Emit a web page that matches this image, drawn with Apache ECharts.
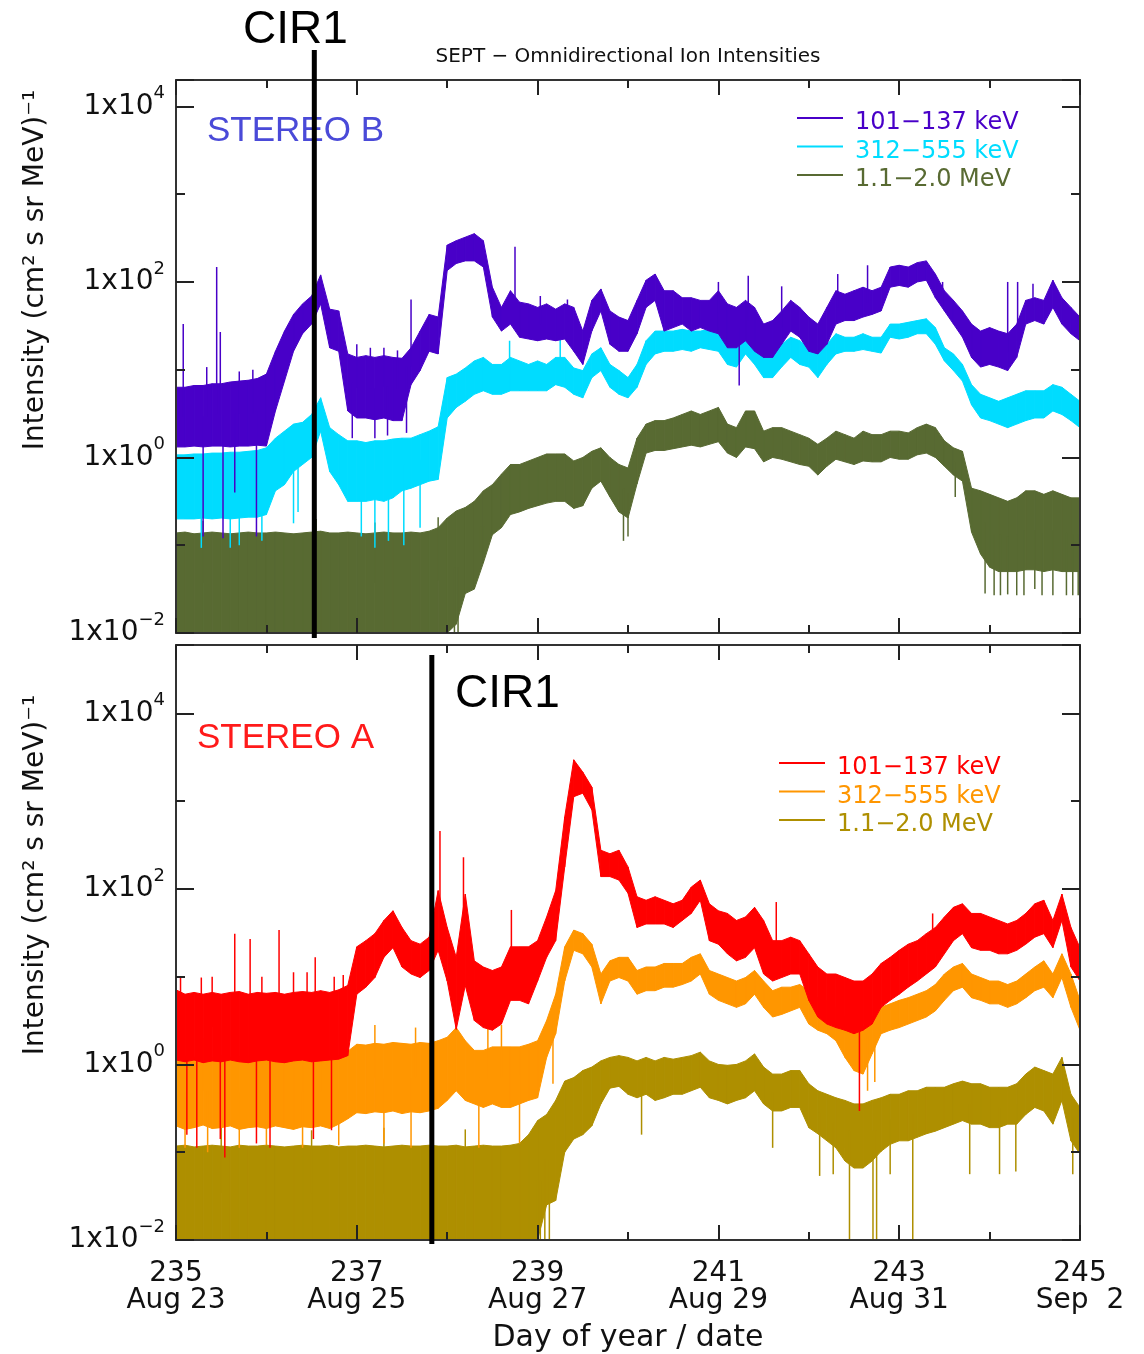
<!DOCTYPE html>
<html><head><meta charset="utf-8">
<script src="https://cdn.jsdelivr.net/npm/echarts@6/dist/echarts.min.js"></script>
<style>html,body{margin:0;padding:0;background:#fff}#c{width:1144px;height:1354px}</style>
</head><body><div id="c"></div><script>
// Sample times: day of year (2008), 0.1-day steps
const days = [
235.0,235.1,235.2,235.3,235.4,235.5,235.6,235.7,235.8,235.9,
236.0,236.1,236.2,236.3,236.4,236.5,236.6,236.7,236.8,236.9,
237.0,237.1,237.2,237.3,237.4,237.5,237.6,237.7,237.8,237.9,
238.0,238.1,238.2,238.3,238.4,238.5,238.6,238.7,238.8,238.9,
239.0,239.1,239.2,239.3,239.4,239.5,239.6,239.7,239.8,239.9,
240.0,240.1,240.2,240.3,240.4,240.5,240.6,240.7,240.8,240.9,
241.0,241.1,241.2,241.3,241.4,241.5,241.6,241.7,241.8,241.9,
242.0,242.1,242.2,242.3,242.4,242.5,242.6,242.7,242.8,242.9,
243.0,243.1,243.2,243.3,243.4,243.5,243.6,243.7,243.8,243.9,
244.0,244.1,244.2,244.3,244.4,244.5,244.6,244.7,244.8,244.9,
245.0];
const dayTicks = [235, 237, 239, 241, 243, 245];
const dateTicks = ['Aug 23', 'Aug 25', 'Aug 27', 'Aug 29', 'Aug 31', 'Sep  2'];
const channels = ['101\u2212137 keV', '312\u2212555 keV', '1.1\u22122.0 MeV'];

// All intensities below are log10 of (cm^2 s sr MeV)^-1 : upper / lower envelope of the noisy trace
// STEREO B
const bLowHi = [
0.80,0.80,0.82,0.82,0.84,0.84,0.86,0.87,0.88,0.90,
0.95,1.21,1.44,1.63,1.75,1.84,2.08,1.69,1.67,1.18,
1.14,1.16,1.14,1.16,1.14,1.13,1.25,1.44,1.63,1.60,
2.42,2.47,2.51,2.55,2.47,1.94,1.71,1.90,1.77,1.75,
1.71,1.75,1.69,1.75,1.71,1.44,1.79,1.92,1.67,1.60,
1.56,1.79,2.02,2.09,1.90,1.90,1.82,1.82,1.79,1.79,
1.90,1.75,1.71,1.79,1.71,1.52,1.56,1.67,1.79,1.71,
1.60,1.52,1.71,1.90,1.86,1.90,1.94,1.90,1.94,2.17,
2.19,2.17,2.22,2.24,2.09,1.90,1.79,1.67,1.52,1.44,
1.48,1.44,1.41,1.52,1.79,1.82,1.79,2.02,1.82,1.71,
1.60];
const bLowLo = [
0.12,0.12,0.13,0.12,0.13,0.13,0.12,0.13,0.13,0.14,
0.13,0.53,0.87,1.21,1.41,1.52,1.75,1.25,1.21,0.53,
0.45,0.45,0.43,0.45,0.42,0.42,0.83,0.99,1.21,1.18,
2.13,2.21,2.24,2.24,2.17,1.60,1.44,1.52,1.37,1.35,
1.33,1.35,1.33,1.35,1.21,1.06,1.44,1.67,1.29,1.21,
1.21,1.41,1.71,1.79,1.44,1.48,1.52,1.44,1.48,1.44,
1.41,1.25,1.25,1.33,1.21,1.14,1.14,1.29,1.44,1.37,
1.21,1.18,1.29,1.52,1.56,1.56,1.60,1.63,1.67,1.94,
1.96,1.94,2.00,2.02,1.82,1.67,1.52,1.37,1.14,1.03,
1.06,1.03,0.99,1.14,1.52,1.56,1.52,1.71,1.52,1.41,
1.33];
const bMidHi = [
0.03,0.03,0.04,0.04,0.05,0.05,0.06,0.06,0.07,0.08,
0.11,0.22,0.30,0.38,0.40,0.49,0.68,0.34,0.26,0.19,
0.19,0.17,0.19,0.19,0.21,0.22,0.22,0.26,0.30,0.35,
0.91,0.95,1.02,1.10,1.14,1.06,1.06,1.14,1.10,1.06,
1.10,1.06,1.14,1.14,1.02,0.99,1.18,1.25,1.06,0.99,
0.91,1.06,1.33,1.44,1.44,1.44,1.46,1.44,1.44,1.46,
1.48,1.41,1.37,1.52,1.37,1.21,1.21,1.29,1.37,1.33,
1.25,1.18,1.29,1.41,1.37,1.37,1.41,1.37,1.37,1.52,
1.52,1.54,1.56,1.58,1.48,1.25,1.18,1.06,0.83,0.72,
0.68,0.64,0.68,0.72,0.76,0.76,0.76,0.83,0.80,0.72,
0.64];
const bMidLo = [
-0.70,-0.70,-0.70,-0.69,-0.70,-0.69,-0.70,-0.69,-0.68,-0.68,
-0.65,-0.38,-0.31,-0.16,-0.08,0.00,0.30,-0.16,-0.31,-0.50,
-0.50,-0.50,-0.48,-0.50,-0.46,-0.38,-0.35,-0.31,-0.27,-0.25,
0.45,0.57,0.64,0.72,0.76,0.72,0.72,0.76,0.76,0.76,
0.76,0.76,0.83,0.80,0.72,0.68,0.91,0.99,0.80,0.72,
0.68,0.80,1.06,1.18,1.21,1.21,1.23,1.21,1.25,1.23,
1.21,1.06,1.03,1.18,1.06,0.91,0.91,1.03,1.14,1.06,
1.03,0.91,1.06,1.18,1.21,1.21,1.23,1.21,1.19,1.37,
1.35,1.37,1.41,1.41,1.29,1.10,0.99,0.87,0.60,0.45,
0.42,0.38,0.34,0.38,0.42,0.45,0.45,0.53,0.49,0.42,
0.34];
const bHighHi = [
-0.86,-0.85,-0.87,-0.86,-0.85,-0.86,-0.87,-0.86,-0.85,-0.86,
-0.86,-0.85,-0.86,-0.87,-0.86,-0.85,-0.84,-0.86,-0.86,-0.85,
-0.86,-0.87,-0.86,-0.85,-0.86,-0.86,-0.85,-0.86,-0.84,-0.80,
-0.69,-0.61,-0.57,-0.50,-0.38,-0.31,-0.19,-0.08,-0.08,-0.04,
0.00,0.04,0.04,0.04,-0.04,0.00,0.07,0.11,0.00,-0.08,
-0.12,0.22,0.38,0.42,0.42,0.45,0.49,0.53,0.49,0.53,
0.57,0.38,0.34,0.53,0.53,0.30,0.34,0.34,0.30,0.26,
0.22,0.15,0.22,0.30,0.26,0.22,0.30,0.26,0.26,0.30,
0.30,0.28,0.34,0.38,0.34,0.19,0.11,0.07,-0.35,-0.38,
-0.42,-0.46,-0.50,-0.46,-0.38,-0.38,-0.42,-0.38,-0.42,-0.46,
-0.46];
const bHighLo = [
-2,-2,-2,-2,-2,-2,-2,-2,-2,-2,
-2,-2,-2,-2,-2,-2,-2,-2,-2,-2,
-2,-2,-2,-2,-2,-2,-2,-2,-2,-2,
-2,-1.9,-1.55,-1.50,-1.20,-0.88,-0.80,-0.65,-0.62,-0.58,
-0.55,-0.52,-0.50,-0.50,-0.58,-0.55,-0.35,-0.27,-0.45,-0.62,
-0.69,-0.30,0.05,0.08,0.08,0.10,0.12,0.14,0.12,0.15,
0.18,0.05,0.00,0.12,0.10,-0.05,0.00,-0.02,-0.05,-0.08,
-0.10,-0.20,-0.10,-0.02,-0.05,-0.08,-0.04,-0.05,-0.05,0.00,
-0.02,-0.02,0.03,0.05,0.00,-0.10,-0.20,-0.27,-0.85,-1.10,
-1.25,-1.30,-1.30,-1.30,-1.28,-1.28,-1.30,-1.28,-1.30,-1.30,
-1.30];
// STEREO A
const aLowHi = [
0.85,0.80,0.82,0.80,0.82,0.80,0.82,0.83,0.80,0.82,
0.81,0.82,0.80,0.82,0.83,0.82,0.84,0.82,0.85,0.90,
1.34,1.41,1.49,1.64,1.75,1.56,1.41,1.37,1.45,1.98,
1.56,1.22,1.94,1.18,1.11,1.07,1.11,1.34,1.34,1.34,
1.41,1.68,1.98,2.82,3.47,3.33,3.16,2.44,2.40,2.44,
2.25,1.91,1.87,1.91,1.87,1.83,1.87,2.02,2.10,1.83,
1.75,1.72,1.64,1.68,1.79,1.64,1.41,1.41,1.45,1.41,
1.26,1.11,1.03,1.03,0.99,0.95,0.95,1.03,1.15,1.22,
1.30,1.37,1.41,1.49,1.56,1.68,1.79,1.83,1.72,1.72,
1.68,1.64,1.60,1.64,1.72,1.83,1.87,1.64,1.94,1.56,
1.33];
const aLowLo = [
0.05,0.03,0.05,0.02,0.04,0.03,0.05,0.03,0.02,0.04,
0.05,0.03,0.02,0.04,0.05,0.03,0.04,0.05,0.06,0.10,
0.80,0.88,0.99,1.22,1.33,1.11,1.03,0.99,1.07,1.30,
0.95,0.40,0.90,0.50,0.42,0.39,0.46,0.73,0.73,0.69,
0.95,1.22,1.41,2.25,3.05,3.09,2.90,2.14,2.14,2.10,
1.95,1.56,1.60,1.60,1.60,1.56,1.64,1.72,1.87,1.41,
1.37,1.26,1.18,1.22,1.33,1.03,0.95,0.99,1.03,1.03,
0.73,0.54,0.46,0.42,0.39,0.35,0.39,0.46,0.65,0.73,
0.80,0.88,0.95,1.03,1.11,1.26,1.41,1.49,1.33,1.30,
1.30,1.26,1.26,1.30,1.37,1.45,1.49,1.33,1.64,1.11,
0.95];
const aMidHi = [
0.08,0.10,0.08,0.09,0.08,0.10,0.08,0.09,0.10,0.08,
0.09,0.08,0.10,0.08,0.09,0.10,0.08,0.09,0.10,0.15,
0.23,0.22,0.24,0.23,0.25,0.24,0.23,0.25,0.24,0.27,
0.31,0.42,0.27,0.16,0.16,0.20,0.20,0.20,0.20,0.23,
0.27,0.50,0.80,1.34,1.53,1.49,1.37,1.03,1.18,1.22,
1.22,1.07,1.11,1.11,1.15,1.15,1.15,1.22,1.26,1.07,
1.03,0.99,0.95,0.99,1.07,0.95,0.84,0.88,0.88,0.91,
0.84,0.76,0.73,0.65,0.54,0.46,0.42,0.54,0.65,0.69,
0.73,0.76,0.80,0.84,0.91,1.03,1.11,1.15,1.03,0.99,
0.95,0.95,0.91,0.95,1.03,1.11,1.18,1.03,1.26,1.03,
0.73];
const aMidLo = [
-0.70,-0.74,-0.72,-0.69,-0.73,-0.72,-0.70,-0.74,-0.72,-0.71,
-0.73,-0.70,-0.72,-0.74,-0.71,-0.72,-0.70,-0.73,-0.68,-0.62,
-0.55,-0.56,-0.54,-0.55,-0.53,-0.56,-0.54,-0.55,-0.53,-0.50,
-0.41,-0.30,-0.41,-0.45,-0.49,-0.45,-0.49,-0.49,-0.45,-0.41,
-0.38,0.08,0.35,0.95,1.30,1.26,1.11,0.69,0.95,0.99,
0.95,0.80,0.84,0.84,0.88,0.88,0.91,0.95,1.03,0.80,
0.73,0.69,0.65,0.69,0.80,0.65,0.54,0.57,0.61,0.65,
0.46,0.39,0.35,0.27,0.08,-0.07,-0.11,0.12,0.35,0.39,
0.42,0.46,0.50,0.54,0.61,0.73,0.84,0.88,0.76,0.73,
0.69,0.69,0.65,0.69,0.76,0.84,0.88,0.76,0.99,0.65,
0.39];
const aHighHi = [
-0.93,-0.92,-0.94,-0.93,-0.92,-0.93,-0.94,-0.92,-0.93,-0.93,
-0.92,-0.93,-0.94,-0.93,-0.92,-0.93,-0.93,-0.92,-0.94,-0.93,
-0.93,-0.92,-0.93,-0.94,-0.93,-0.92,-0.93,-0.93,-0.92,-0.93,
-0.93,-0.92,-0.94,-0.93,-0.92,-0.93,-0.93,-0.92,-0.90,-0.80,
-0.64,-0.57,-0.41,-0.19,-0.15,-0.07,-0.03,0.04,0.08,0.10,
0.08,0.04,0.08,0.04,0.08,0.06,0.08,0.10,0.14,0.04,
0.00,-0.01,0.00,0.04,0.12,-0.03,-0.11,-0.11,-0.07,-0.07,
-0.22,-0.30,-0.34,-0.38,-0.41,-0.45,-0.45,-0.41,-0.38,-0.34,
-0.34,-0.30,-0.30,-0.26,-0.26,-0.26,-0.22,-0.19,-0.22,-0.22,
-0.26,-0.26,-0.26,-0.22,-0.11,-0.03,-0.07,-0.11,0.08,-0.34,
-0.49];
const aHighLo = [
-2,-2,-2,-2,-2,-2,-2,-2,-2,-2,
-2,-2,-2,-2,-2,-2,-2,-2,-2,-2,
-2,-2,-2,-2,-2,-2,-2,-2,-2,-2,
-2,-2,-2,-2,-2,-2,-2,-2,-2,-2,
-2,-1.6,-1.55,-1.0,-0.85,-0.80,-0.70,-0.45,-0.27,-0.25,
-0.34,-0.38,-0.34,-0.41,-0.38,-0.34,-0.34,-0.30,-0.26,-0.38,
-0.41,-0.45,-0.41,-0.38,-0.30,-0.45,-0.53,-0.53,-0.49,-0.49,
-0.72,-0.79,-0.87,-0.95,-1.10,-1.18,-1.18,-1.10,-0.99,-0.91,
-0.87,-0.87,-0.83,-0.79,-0.76,-0.72,-0.68,-0.64,-0.68,-0.68,
-0.72,-0.72,-0.68,-0.68,-0.57,-0.49,-0.53,-0.68,-0.41,-0.87,
-1.02];
// Isolated spikes [day, log10 tip]
const bLowSpikes = [[235.08,1.52],[235.34,1.03],[235.45,2.17],[235.49,1.43],[235.70,0.98],[235.85,1.00],[235.30,-0.90],[235.52,-0.92],[235.89,-0.90],[235.65,-0.40],[236.95,0.22],[237.00,1.29],[237.15,1.25],[237.20,0.22],[237.30,1.25],[237.34,0.25],[237.45,1.22],[237.55,0.28],[237.60,1.80],[238.75,2.40],[239.03,1.84],[239.33,1.80],[241.00,2.00],[241.23,0.82],[241.33,2.07],[241.70,1.95],[242.32,2.09],[242.65,2.19],[243.48,2.00],[244.20,2.00],[244.31,2.00],[244.48,1.98]];
const bMidSpikes = [[235.28,-1.03],[235.60,-1.03],[235.70,-1.00],[235.95,-0.95],[236.30,-0.75],[236.35,-0.62],[237.05,-0.90],[237.20,-1.03],[237.35,-0.95],[237.52,-1.00],[237.70,-0.80],[238.69,1.33],[239.25,1.35]];
const bHighSpikes = [[235.30,-0.72],[236.55,-0.70],[237.20,-0.74],[237.90,-0.68],[238.08,-2],[238.12,-2],[238.37,-1.07],[238.41,-1.10],[239.95,-0.95],[240.00,-0.90],[243.62,-0.45],[243.95,-1.55],[244.05,-1.57],[244.12,-1.57],[244.20,-1.56],[244.30,-1.57],[244.38,-1.57],[244.50,-1.50],[244.58,-1.57],[244.70,-1.57],[244.85,-1.57],[244.92,-1.57],[244.98,-1.57]];
const aLowSpikes = [[235.05,0.99],[235.28,0.99],[235.40,1.00],[235.65,1.49],[235.82,1.43],[235.95,1.00],[236.14,1.53],[236.30,1.05],[236.45,1.05],[236.54,1.22],[236.75,1.00],[236.85,1.02],[235.12,-0.80],[235.23,-0.95],[235.49,-0.85],[235.54,-1.06],[235.89,-0.90],[236.04,-0.95],[236.52,-0.85],[236.72,-0.75],[237.92,2.66],[238.18,2.36],[238.71,1.76],[241.64,1.85],[242.56,-0.53],[243.37,1.72]];
const aMidSpikes = [[235.10,-0.95],[235.30,0.30],[235.35,-1.00],[235.70,-0.95],[235.90,0.28],[236.00,-0.92],[236.40,-0.95],[236.60,0.30],[236.80,-0.92],[237.20,0.45],[237.30,-0.90],[237.60,-0.95],[237.65,0.42],[238.35,-0.95],[238.45,0.42],[238.60,0.45],[238.80,-0.90],[239.17,-0.22],[242.65,-0.30],[242.73,-0.20]];
const aHighSpikes = [[235.50,-0.72],[236.50,-0.75],[237.30,-0.72],[238.20,-0.74],[238.98,-2],[239.03,-2],[239.08,-2],[239.13,-2],[240.15,-0.80],[241.60,-0.95],[242.12,-1.27],[242.27,-1.25],[242.45,-2],[242.71,-2],[242.75,-2],[242.90,-1.25],[243.15,-2],[243.78,-1.25],[244.11,-1.25],[244.29,-1.22],[244.92,-1.25]];
// CIR1 times
const cirB = [236.53];
const cirA = [237.83];

const Y_MIN = -2, Y_MAX = [4.301, 4.778];
const FONT = '"DejaVu Sans", sans-serif';
const colB = ['#4800c8', '#00dcff', '#586a32'];
const colA = ['#ff0000', '#ff9600', '#ae8f00'];

function band(name, hi, lo, color, g) {
  return {
    type: 'custom', name, xAxisIndex: g * 4, yAxisIndex: g * 4, clip: true, silent: true,
    data: days.map((d, i) => [d, hi[i], lo[i]]),
    encode: { x: 0, y: [1, 2] },
    renderItem(params, api) {
      const i = params.dataIndex;
      if (i >= days.length - 1) return null;
      const p1 = api.coord([days[i], hi[i]]), p2 = api.coord([days[i + 1], hi[i + 1]]);
      const p3 = api.coord([days[i + 1], lo[i + 1]]), p4 = api.coord([days[i], lo[i]]);
      return { type: 'polygon', shape: { points: [p1, p2, p3, p4] }, style: { fill: color, stroke: color, lineWidth: 1 } };
    }
  };
}
function spikes(name, pts, hi, lo, color, g) {
  return {
    type: 'custom', name, xAxisIndex: g * 4, yAxisIndex: g * 4, clip: true, silent: true,
    data: pts, encode: { x: 0, y: 1 },
    renderItem(params, api) {
      const t = api.value(0), v = api.value(1);
      let k = 0;
      for (let j = 1; j < days.length; j++) if (Math.abs(days[j] - t) < Math.abs(days[k] - t)) k = j;
      const mid = (hi[k] + lo[k]) / 2;
      const p = api.coord([t, v]), q = api.coord([t, mid]);
      return { type: 'line', shape: { x1: p[0], y1: p[1], x2: q[0], y2: q[1] }, style: { stroke: color, lineWidth: 1.5 } };
    }
  };
}
function cirLine(name, t, g, up, down) {
  return {
    type: 'custom', name, xAxisIndex: g * 4, yAxisIndex: g * 4, clip: false, silent: true, z: 30,
    data: t.map(v => [v]), encode: { x: 0 },
    renderItem(params, api) {
      const x = api.value(0);
      const a = api.coord([x, Y_MAX[g]]), b = api.coord([x, Y_MIN]);
      return { type: 'line', shape: { x1: a[0], y1: a[1] - up, x2: b[0], y2: b[1] + down }, style: { stroke: '#000', lineWidth: 5 } };
    }
  };
}

const tick = (len) => ({ show: true, inside: true, length: len, lineStyle: { color: '#222', width: 2 } });
const border = { show: true, onZero: false, lineStyle: { color: '#333', width: 2 } };
const noLine = { show: false, onZero: false };
function xAxes(g) {
  const base = { type: 'value', gridIndex: g, min: 235, max: 245, splitLine: { show: false }, z: 10, axisLabel: { show: false } };
  const lab = g === 1 ? {
    show: true, margin: 20, color: '#111', fontFamily: FONT, fontSize: 28, lineHeight: 27,
    formatter: v => { const k = dayTicks.indexOf(Math.round(v)); return (k < 0 || Math.abs(v - Math.round(v)) > 1e-6) ? '' : dayTicks[k] + '\n' + dateTicks[k]; }
  } : { show: false };
  return [
    { ...base, position: 'bottom', interval: 2, axisTick: tick(15), axisLine: border, axisLabel: lab },
    { ...base, position: 'bottom', interval: 1, axisTick: tick(8), axisLine: noLine },
    { ...base, position: 'top', interval: 2, axisTick: tick(15), axisLine: border },
    { ...base, position: 'top', interval: 1, axisTick: tick(8), axisLine: noLine }
  ];
}
function yAxes(g) {
  const base = { type: 'value', gridIndex: g, min: Y_MIN, max: Y_MAX[g], splitLine: { show: false }, z: 10, axisLabel: { show: false } };
  const lab = {
    show: true, margin: 11,
    formatter: v => Math.abs(v - Math.round(v)) > 1e-6 ? '' : '{b|1x10}{s|' + (v < 0 ? '\u2212' + (-Math.round(v)) : Math.round(v)) + '}',
    rich: {
      b: { fontFamily: FONT, fontSize: 28, lineHeight: 44, color: '#111' },
      s: { fontFamily: FONT, fontSize: 18, lineHeight: 20, color: '#111', verticalAlign: 'top' }
    }
  };
  return [
    { ...base, position: 'left', interval: 2, axisTick: tick(18), axisLine: border, axisLabel: lab },
    { ...base, position: 'left', interval: 1, axisTick: tick(9), axisLine: noLine },
    { ...base, position: 'right', interval: 2, axisTick: tick(18), axisLine: border },
    { ...base, position: 'right', interval: 1, axisTick: tick(9), axisLine: noLine }
  ];
}

function legendGraphics(x0, y0, dy, colors) {
  const out = [];
  channels.forEach((c, i) => {
    out.push({ type: 'line', shape: { x1: x0, y1: y0 + i * dy, x2: x0 + 46, y2: y0 + i * dy }, style: { stroke: colors[i], lineWidth: 2 } });
    out.push({ type: 'text', x: x0 + 58, y: y0 + i * dy + 5, style: { text: c, fill: colors[i], font: '24px ' + FONT, textAlign: 'left', textVerticalAlign: 'middle' } });
  });
  return out;
}

const option = {
  animation: false,
  backgroundColor: '#fff',
  grid: [
    { left: 176, top: 80, width: 904, height: 553, show: false },
    { left: 176, top: 645, width: 904, height: 595, show: false }
  ],
  xAxis: [...xAxes(0), ...xAxes(1)],
  yAxis: [...yAxes(0), ...yAxes(1)],
  series: [
    band('STEREO B ' + channels[2], bHighHi, bHighLo, colB[2], 0),
    spikes('STEREO B ' + channels[2] + ' spikes', bHighSpikes, bHighHi, bHighLo, colB[2], 0),
    band('STEREO B ' + channels[1], bMidHi, bMidLo, colB[1], 0),
    spikes('STEREO B ' + channels[1] + ' spikes', bMidSpikes, bMidHi, bMidLo, colB[1], 0),
    band('STEREO B ' + channels[0], bLowHi, bLowLo, colB[0], 0),
    spikes('STEREO B ' + channels[0] + ' spikes', bLowSpikes, bLowHi, bLowLo, colB[0], 0),
    band('STEREO A ' + channels[2], aHighHi, aHighLo, colA[2], 1),
    spikes('STEREO A ' + channels[2] + ' spikes', aHighSpikes, aHighHi, aHighLo, colA[2], 1),
    band('STEREO A ' + channels[1], aMidHi, aMidLo, colA[1], 1),
    spikes('STEREO A ' + channels[1] + ' spikes', aMidSpikes, aMidHi, aMidLo, colA[1], 1),
    band('STEREO A ' + channels[0], aLowHi, aLowLo, colA[0], 1),
    spikes('STEREO A ' + channels[0] + ' spikes', aLowSpikes, aLowHi, aLowLo, colA[0], 1),
    cirLine('CIR1 STEREO B', cirB, 0, 30, 5),
    cirLine('CIR1 STEREO A', cirA, 1, -10, 4)
  ],
  graphic: [
    { type: 'text', x: 628, y: 57, style: { text: 'SEPT \u2212 Omnidirectional Ion Intensities', fill: '#111', font: '20px ' + FONT, textAlign: 'center', textVerticalAlign: 'middle' } },
    { type: 'text', x: 36, y: 270, rotation: Math.PI / 2, style: { text: 'Intensity (cm\u00b2 s sr MeV)\u207b\u00b9', fill: '#111', font: '28px ' + FONT, textAlign: 'center', textVerticalAlign: 'middle' } },
    { type: 'text', x: 36, y: 875, rotation: Math.PI / 2, style: { text: 'Intensity (cm\u00b2 s sr MeV)\u207b\u00b9', fill: '#111', font: '28px ' + FONT, textAlign: 'center', textVerticalAlign: 'middle' } },
    { type: 'text', x: 628, y: 1338, style: { text: 'Day of year / date', fill: '#111', font: '30px ' + FONT, textAlign: 'center', textVerticalAlign: 'middle' } },
    { type: 'text', x: 207, y: 131, style: { text: 'STEREO B', fill: '#4a4ad8', font: '35px "Liberation Sans", Arial, sans-serif', textAlign: 'left', textVerticalAlign: 'middle' } },
    { type: 'text', x: 197, y: 738, style: { text: 'STEREO A', fill: '#ff1a1a', font: '35px "Liberation Sans", Arial, sans-serif', textAlign: 'left', textVerticalAlign: 'middle' } },
    { type: 'text', x: 243, y: 30, z: 40, style: { text: 'CIR1', fill: '#000', font: '46px "Liberation Sans", Arial, sans-serif', textAlign: 'left', textVerticalAlign: 'middle' } },
    { type: 'text', x: 455, y: 694, z: 40, style: { text: 'CIR1', fill: '#000', font: '46px "Liberation Sans", Arial, sans-serif', textAlign: 'left', textVerticalAlign: 'middle' } },
    ...legendGraphics(797, 118, 28.5, colB),
    ...legendGraphics(779, 763, 28.5, colA)
  ]
};
const chart = echarts.init(document.getElementById('c'), null, { renderer: 'canvas' });
chart.setOption(option);
</script></body></html>
